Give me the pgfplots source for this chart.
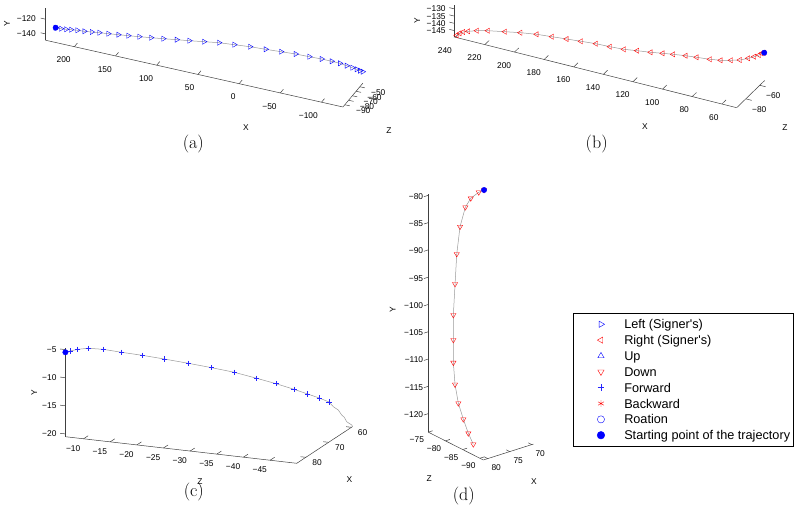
\documentclass[border=0pt]{standalone}
\usepackage{fontspec}
\usepackage{pgfplots}
\pgfplotsset{compat=1.18}
\newfontfamily\mlfont{Liberation Sans}
\tikzset{
  axl/.style={black!75, line width=0.5pt},
  tl/.style={font=\mlfont\fontsize{8.4}{9}\selectfont, inner sep=0pt},
  captxt/.style={font=\fontsize{18}{20}\selectfont, inner sep=0pt},
}
\pgfplotsset{
  traj/.style={black!40, line width=0.5pt, mark size=3pt},
  start/.style={only marks, mark=*, mark size=2.7pt, blue, mark options={fill=blue}},
}
\newcommand\tk[4]{\draw[axl] (axis cs:#1) -- ++(#2); \node[tl,#3] at (axis cs:#1) {#4};}
\begin{document}
\begin{tikzpicture}
\useasboundingbox (0,0) rectangle (800pt,509pt);

% ---------------- (a) ----------------
\begin{axis}[at={(45.5pt,402pt)}, anchor=south west,
  x={(-0.824pt,0.185pt)}, y={(0pt,0.735pt)}, z={(0.375pt,0.45pt)},
  xmin=-126, xmax=235, ymin=-148.6, ymax=-105, zmin=-95, zmax=-42,
  hide axis, clip=false]
\draw[axl] (axis cs:-126,-148.6,-95) -- (axis cs:235,-148.6,-95);
\draw[axl] (axis cs:235,-148.6,-95) -- (axis cs:235,-105,-95);
\draw[axl] (axis cs:-126,-148.6,-95) -- (axis cs:-126,-148.6,-42);
\tk{200,-148.6,-95}{3pt,3.6pt}{anchor=north east,xshift=-3.5pt,yshift=-10pt}{200}
\tk{150,-148.6,-95}{3pt,3.6pt}{anchor=north east,xshift=-3.5pt,yshift=-10pt}{150}
\tk{100,-148.6,-95}{3pt,3.6pt}{anchor=north east,xshift=-3.5pt,yshift=-10pt}{100}
\tk{50,-148.6,-95}{3pt,3.6pt}{anchor=north east,xshift=-3.5pt,yshift=-10pt}{50}
\tk{0,-148.6,-95}{3pt,3.6pt}{anchor=north east,xshift=-3.5pt,yshift=-10pt}{0}
\tk{-50,-148.6,-95}{3pt,3.6pt}{anchor=north east,xshift=-3.5pt,yshift=-10pt}{−50}
\tk{-100,-148.6,-95}{3pt,3.6pt}{anchor=north east,xshift=-3.5pt,yshift=-10pt}{−100}
\tk{235,-120,-95}{-4.9pt,1.1pt}{anchor=east,xshift=-9.5pt,yshift=0.5pt}{−120}
\tk{235,-140,-95}{-4.9pt,1.1pt}{anchor=east,xshift=-9.5pt,yshift=0.5pt}{−140}
\tk{-126,-148.6,-50}{4.9pt,-1.1pt}{xshift=18.4pt,yshift=-6.3pt}{−50}
\tk{-126,-148.6,-60}{4.9pt,-1.1pt}{xshift=18.4pt,yshift=-6.3pt}{−60}
\tk{-126,-148.6,-70}{4.9pt,-1.1pt}{xshift=18.4pt,yshift=-6.3pt}{−70}
\tk{-126,-148.6,-80}{4.9pt,-1.1pt}{xshift=18.4pt,yshift=-6.3pt}{−80}
\tk{-126,-148.6,-90}{4.9pt,-1.1pt}{xshift=18.4pt,yshift=-6.3pt}{−90}
\addplot3[traj, mark=triangle, mark options={draw=blue, solid, line width=0.4pt, rotate=-90}] coordinates {
(222.7,-128.56,-94.88) (216.7,-128.96,-93.97) (211.0,-128.87,-93.11) (205.3,-128.51,-92.24)
(198.2,-128.19,-91.17) (190.2,-128.28,-89.95) (181.8,-127.91,-88.68) (173.2,-127.49,-87.38)
(163.0,-127.23,-85.83) (151.6,-126.78,-84.10) (140.3,-126.34,-82.39) (127.8,-125.72,-80.49)
(114.5,-124.96,-78.48) (100.6,-124.12,-76.37) (85.35,-123.05,-74.06) (71.05,-122.14,-71.89)
(54.36,-120.85,-69.36) (37.33,-119.50,-66.78) (19.97,-119.46,-64.15) (2.14,-119.36,-61.44)
(-15.68,-120.06,-58.74) (-33.04,-120.57,-56.11) (-49.73,-121.05,-53.58) (-65.17,-122.26,-51.24)
(-79.24,-123.16,-49.11) (-90.59,-124.49,-47.39) (-100.0,-125.71,-45.96) (-107.6,-127.76,-44.81)
(-113.98,-129.48,-43.84) (-118.97,-130.86,-43.08) (-122.72,-132.17,-42.52) (-125.78,-133.04,-42.05)};
\addplot3[start] coordinates {(222.7,-128.56,-94.88)};
\end{axis}
\node[tl,rotate=90] at (7pt,485pt) {Y};
\node[tl] at (246pt,381pt) {X};
\node[tl] at (389pt,378pt) {Z};
\node[captxt] at (193.3pt,364.8pt) {(a)};

% ---------------- (b) ----------------
\begin{axis}[at={(453.8pt,401.3pt)}, anchor=south west,
  x={(-1.481pt,0.371pt)}, y={(0pt,1.447pt)}, z={(0.7pt,0.68pt)},
  xmin=50, xmax=241, ymin=-149.4, ymax=-127.2, zmin=-93, zmax=-53,
  hide axis, clip=false]
\draw[axl] (axis cs:50,-149.4,-93) -- (axis cs:241,-149.4,-93);
\draw[axl] (axis cs:241,-149.4,-93) -- (axis cs:241,-127.2,-93);
\draw[axl] (axis cs:50,-149.4,-93) -- (axis cs:50,-149.4,-53);
\tk{240,-149.4,-93}{4.2pt,4.1pt}{anchor=north east,xshift=-3.2pt,yshift=-10pt}{240}
\tk{220,-149.4,-93}{4.2pt,4.1pt}{anchor=north east,xshift=-3.2pt,yshift=-10pt}{220}
\tk{200,-149.4,-93}{4.2pt,4.1pt}{anchor=north east,xshift=-3.2pt,yshift=-10pt}{200}
\tk{180,-149.4,-93}{4.2pt,4.1pt}{anchor=north east,xshift=-3.2pt,yshift=-10pt}{180}
\tk{160,-149.4,-93}{4.2pt,4.1pt}{anchor=north east,xshift=-3.2pt,yshift=-10pt}{160}
\tk{140,-149.4,-93}{4.2pt,4.1pt}{anchor=north east,xshift=-3.2pt,yshift=-10pt}{140}
\tk{120,-149.4,-93}{4.2pt,4.1pt}{anchor=north east,xshift=-3.2pt,yshift=-10pt}{120}
\tk{100,-149.4,-93}{4.2pt,4.1pt}{anchor=north east,xshift=-3.2pt,yshift=-10pt}{100}
\tk{80,-149.4,-93}{4.2pt,4.1pt}{anchor=north east,xshift=-3.2pt,yshift=-10pt}{80}
\tk{60,-149.4,-93}{4.2pt,4.1pt}{anchor=north east,xshift=-3.2pt,yshift=-10pt}{60}
\tk{241,-130,-93}{-4.4pt,1.1pt}{anchor=east,xshift=-8pt,yshift=-0.3pt}{−130}
\tk{241,-135,-93}{-4.4pt,1.1pt}{anchor=east,xshift=-8pt,yshift=-0.3pt}{−135}
\tk{241,-140,-93}{-4.4pt,1.1pt}{anchor=east,xshift=-8pt,yshift=-0.3pt}{−140}
\tk{241,-145,-93}{-4.4pt,1.1pt}{anchor=east,xshift=-8pt,yshift=-0.3pt}{−145}
\tk{50,-149.4,-60}{5.9pt,-1.5pt}{xshift=13.5pt,yshift=-10.7pt}{−60}
\tk{50,-149.4,-80}{5.9pt,-1.5pt}{xshift=13.5pt,yshift=-10.7pt}{−80}
\addplot3[traj, mark=triangle, mark options={draw=red, solid, line width=0.4pt, rotate=90}] coordinates {
(50.25,-130.23,-53.06) (51.85,-130.89,-53.39) (53.50,-132.33,-53.74) (56.39,-133.96,-54.34)
(60.08,-135.65,-55.12) (65.18,-137.63,-56.19) (70.71,-138.71,-57.34) (77.03,-139.71,-58.67)
(83.61,-140.06,-60.04) (91.78,-139.97,-61.75) (98.54,-139.93,-63.17) (106.16,-140.17,-64.77)
(112.67,-140.50,-66.13) (120.04,-140.98,-67.67) (128.28,-141.18,-69.40) (136.45,-141.50,-71.11)
(145.05,-141.06,-72.91) (153.65,-140.35,-74.71) (162.87,-140.14,-76.64) (171.65,-139.94,-78.48)
(180.69,-139.78,-80.37) (190.09,-139.60,-82.34) (200.04,-140.07,-84.42) (209.56,-140.88,-86.42)
(220.01,-141.85,-88.61) (226.77,-142.91,-90.02) (232.11,-144.17,-91.14) (235.18,-145.14,-91.78)
(237.39,-146.39,-92.24) (239.24,-148.07,-92.63)};
\addplot3[start] coordinates {(50.25,-130.23,-53.06)};
\end{axis}
\node[tl,rotate=90] at (417.3pt,488.3pt) {Y};
\node[tl] at (645pt,382.3pt) {X};
\node[tl] at (785pt,381.7pt) {Z};
\node[captxt] at (596.7pt,364.8pt) {(b)};

% ---------------- (c) ----------------
\begin{axis}[at={(65.4pt,45.7pt)}, anchor=south west,
  x={(-2.28pt,-1.5pt)}, y={(0pt,5.62pt)}, z={(-5.33pt,0.613pt)},
  xmin=59.5, xmax=84, ymin=-20.5, ymax=-4.8, zmin=-50, zmax=-6.6,
  hide axis, clip=false]
\draw[axl] (axis cs:59.5,-20.5,-50) -- (axis cs:84,-20.5,-50);
\draw[axl] (axis cs:84,-20.5,-50) -- (axis cs:84,-20.5,-6.6);
\draw[axl] (axis cs:84,-20.5,-6.6) -- (axis cs:84,-4.8,-6.6);
\tk{84,-5,-6.6}{-5.3pt,0.6pt}{anchor=east,xshift=-8.7pt,yshift=0.3pt}{−5}
\tk{84,-10,-6.6}{-5.3pt,0.6pt}{anchor=east,xshift=-8.7pt,yshift=0.3pt}{−10}
\tk{84,-15,-6.6}{-5.3pt,0.6pt}{anchor=east,xshift=-8.7pt,yshift=0.3pt}{−15}
\tk{84,-20,-6.6}{-5.3pt,0.6pt}{anchor=east,xshift=-8.7pt,yshift=0.3pt}{−20}
\tk{84,-20.5,-10}{4.6pt,3pt}{anchor=north east,xshift=-3pt,yshift=-6.3pt}{−10}
\tk{84,-20.5,-15}{4.6pt,3pt}{anchor=north east,xshift=-3pt,yshift=-6.3pt}{−15}
\tk{84,-20.5,-20}{4.6pt,3pt}{anchor=north east,xshift=-3pt,yshift=-6.3pt}{−20}
\tk{84,-20.5,-25}{4.6pt,3pt}{anchor=north east,xshift=-3pt,yshift=-6.3pt}{−25}
\tk{84,-20.5,-30}{4.6pt,3pt}{anchor=north east,xshift=-3pt,yshift=-6.3pt}{−30}
\tk{84,-20.5,-35}{4.6pt,3pt}{anchor=north east,xshift=-3pt,yshift=-6.3pt}{−35}
\tk{84,-20.5,-40}{4.6pt,3pt}{anchor=north east,xshift=-3pt,yshift=-6.3pt}{−40}
\tk{84,-20.5,-45}{4.6pt,3pt}{anchor=north east,xshift=-3pt,yshift=-6.3pt}{−45}
\tk{60,-20.5,-50}{-5.3pt,0.6pt}{xshift=11.2pt,yshift=-5.8pt}{60}
\tk{70,-20.5,-50}{-5.3pt,0.6pt}{xshift=11.2pt,yshift=-5.8pt}{70}
\tk{80,-20.5,-50}{-5.3pt,0.6pt}{xshift=11.2pt,yshift=-5.8pt}{80}
\addplot3[traj] coordinates {
(84,-5.48,-6.6) (83.61,-5.28,-7.30) (82.95,-5.03,-8.46) (82.04,-4.91,-10.06) (80.77,-5.19,-12.33)
(79.20,-5.84,-15.11) (77.44,-6.50,-18.22) (75.56,-7.30,-21.55) (73.51,-8.21,-25.18)
(71.52,-9.14,-28.71) (69.59,-10.10,-32.13) (67.68,-11.31,-35.51) (66.03,-12.39,-38.43)
(64.50,-13.50,-41.15) (63.33,-14.43,-43.22) (62.34,-15.21,-44.97) (61.51,-15.98,-46.44)
(61.14,-16.85,-47.09) (60.72,-17.47,-47.84) (60.43,-18.38,-48.36) (60.21,-18.80,-48.75)
(60.00,-19.60,-49.11) (59.57,-20.22,-49.87) (59.5,-20.5,-50)};
\addplot3[only marks, color=blue!85!white, mark=+, mark size=2.6pt, mark options={color=blue!85!white, line width=0.45pt}] coordinates {
(84,-5.48,-6.6) (83.61,-5.28,-7.30) (82.95,-5.03,-8.46) (82.04,-4.91,-10.06) (80.77,-5.19,-12.33)
(79.20,-5.84,-15.11) (77.44,-6.50,-18.22) (75.56,-7.30,-21.55) (73.51,-8.21,-25.18)
(71.52,-9.14,-28.71) (69.59,-10.10,-32.13) (67.68,-11.31,-35.51) (66.03,-12.39,-38.43)
(64.50,-13.50,-41.15) (63.33,-14.43,-43.22) (62.34,-15.21,-44.97) (61.51,-15.98,-46.44)};
\addplot3[start] coordinates {(84,-5.48,-6.6)};
\end{axis}
\node[tl,rotate=90] at (34.3pt,116.3pt) {Y};
\node[tl] at (200pt,27.3pt) {Z};
\node[tl] at (349.3pt,29.7pt) {X};
\node[captxt] at (193.8pt,16.8pt) {(c)};

% ---------------- (d) ----------------
\begin{axis}[at={(428.3pt,49pt)}, anchor=south west,
  x={(-4.4pt,-1.4pt)}, y={(0pt,5.457pt)}, z={(-3.44pt,1.74pt)},
  xmin=69.6, xmax=81, ymin=-123.4, ymax=-79.8, zmin=-91, zmax=-75,
  hide axis, clip=false]
\draw[axl] (axis cs:69.6,-123.4,-91) -- (axis cs:81,-123.4,-91);
\draw[axl] (axis cs:81,-123.4,-91) -- (axis cs:81,-123.4,-75);
\draw[axl] (axis cs:81,-123.4,-75) -- (axis cs:81,-79.8,-75);
\tk{81,-80,-75}{-4.4pt,-1.4pt}{anchor=east,xshift=-5pt,yshift=-1pt}{−80}
\tk{81,-85,-75}{-4.4pt,-1.4pt}{anchor=east,xshift=-5pt,yshift=-1pt}{−85}
\tk{81,-90,-75}{-4.4pt,-1.4pt}{anchor=east,xshift=-5pt,yshift=-1pt}{−90}
\tk{81,-95,-75}{-4.4pt,-1.4pt}{anchor=east,xshift=-5pt,yshift=-1pt}{−95}
\tk{81,-100,-75}{-4.4pt,-1.4pt}{anchor=east,xshift=-5pt,yshift=-1pt}{−100}
\tk{81,-105,-75}{-4.4pt,-1.4pt}{anchor=east,xshift=-5pt,yshift=-1pt}{−105}
\tk{81,-110,-75}{-4.4pt,-1.4pt}{anchor=east,xshift=-5pt,yshift=-1pt}{−110}
\tk{81,-115,-75}{-4.4pt,-1.4pt}{anchor=east,xshift=-5pt,yshift=-1pt}{−115}
\tk{81,-120,-75}{-4.4pt,-1.4pt}{anchor=east,xshift=-5pt,yshift=-1pt}{−120}
\tk{81,-123.4,-75}{4.4pt,1.4pt}{xshift=-11.5pt,yshift=-7.7pt}{−75}
\tk{81,-123.4,-80}{4.4pt,1.4pt}{xshift=-11.5pt,yshift=-7.7pt}{−80}
\tk{81,-123.4,-85}{4.4pt,1.4pt}{xshift=-11.5pt,yshift=-7.7pt}{−85}
\tk{81,-123.4,-90}{4.4pt,1.4pt}{xshift=-11.5pt,yshift=-7.7pt}{−90}
\tk{70,-123.4,-91}{-3.44pt,1.74pt}{xshift=8.5pt,yshift=-9.3pt}{70}
\tk{75,-123.4,-91}{-3.44pt,1.74pt}{xshift=8.5pt,yshift=-9.3pt}{75}
\tk{80,-123.4,-91}{-3.44pt,1.74pt}{xshift=8.5pt,yshift=-9.3pt}{80}
\addplot3[traj, mark=triangle, mark options={draw=red, solid, line width=0.4pt, rotate=180}] coordinates {
(69.58,-81.44,-76.6) (70.16,-81.97,-75.8) (71.51,-82.92,-75.2) (72.58,-84.35,-75.0)
(73.79,-87.60,-75.0) (74.69,-92.31,-75.2) (75.70,-97.29,-76.0) (77.03,-102.25,-77.2)
(78.12,-106.10,-78.6) (79.37,-109.43,-80.2) (80.40,-112.59,-82.0) (80.97,-115.34,-83.7)
(80.97,-117.81,-85.15) (80.97,-119.92,-86.6) (80.97,-121.47,-88.05)};
\addplot3[start] coordinates {(69.58,-81.44,-76.6)};
\end{axis}
\node[tl,rotate=90] at (392.7pt,199pt) {Y};
\node[tl] at (429.3pt,30pt) {Z};
\node[tl] at (534pt,27.3pt) {X};
\node[captxt] at (463.8pt,13.2pt) {(d)};

% ---------------- legend ----------------
\begin{axis}[at={(573.3pt,196.3pt)}, anchor=north west,
  width=220pt, height=132pt, scale only axis, hide axis,
  xmin=0, xmax=1, ymin=0, ymax=1,
  legend cell align=left,
  legend style={at={(0,1)}, anchor=north west, draw=black, line width=0.5pt, fill=white,
    inner xsep=3.3pt, inner ysep=3.4pt, column sep=0pt, row sep=0pt,
    font=\mlfont\fontsize{12.7}{15}\selectfont,
    nodes={inner sep=0pt, text height=12.5pt, text depth=3.35pt, draw=none}},
  legend image code/.code={\path[draw=none, fill=none] (0pt,-5pt) rectangle (47.4pt,5pt);
    \draw[#1, line width=0.4pt] plot coordinates {(24.1pt,0pt)};},
]
\addlegendimage{only marks, blue, mark=triangle, mark size=3.6pt, mark options={draw=blue, rotate=-90}}
\addlegendentry{Left (Signer\textquotesingle s)}
\addlegendimage{only marks, red, mark=triangle, mark size=3.6pt, mark options={draw=red, rotate=90}}
\addlegendentry{Right (Signer\textquotesingle s)}
\addlegendimage{only marks, blue, mark=triangle, mark size=3.6pt, mark options={draw=blue}}
\addlegendentry{Up}
\addlegendimage{only marks, red, mark=triangle, mark size=3.6pt, mark options={draw=red, rotate=180}}
\addlegendentry{Down}
\addlegendimage{only marks, color=blue!85!white, mark=+, mark size=3.4pt, mark options={color=blue!85!white}}
\addlegendentry{Forward}
\addlegendimage{only marks, red, mark=asterisk, mark size=3.4pt, mark options={draw=red}}
\addlegendentry{Backward}
\addlegendimage{only marks, blue, mark=o, mark size=3.6pt, mark options={draw=blue}}
\addlegendentry{Roation}
\addlegendimage{only marks, blue, mark=*, mark size=3.8pt, mark options={draw=blue, fill=blue}}
\addlegendentry{Starting point of the trajectory}
\end{axis}
\end{tikzpicture}
\end{document}
